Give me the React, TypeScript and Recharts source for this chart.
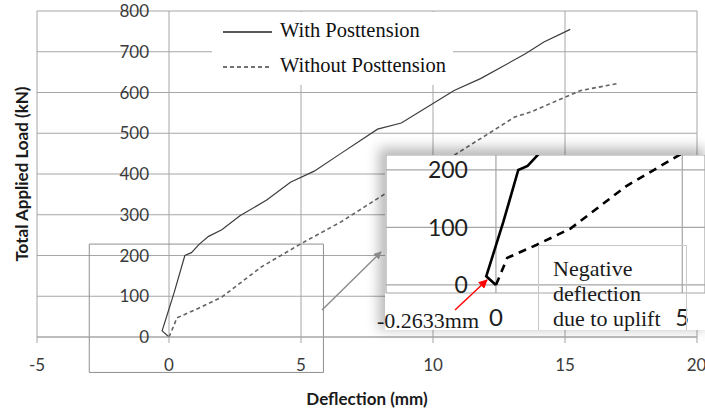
import { CartesianGrid, Legend, Line, LineChart, ReferenceArea, XAxis, YAxis } from "recharts";

// deflection (mm) / load (kN)
const withX = [0, -0.26, 0.2, 0.6, 0.85, 1.15, 1.5, 2.0, 2.7, 3.7, 4.6, 5.5, 6.5, 7.9, 8.8, 10.8, 11.8, 13.5, 14.2, 15.2];
const withY = [0, 15, 110, 200, 207, 228, 247, 263, 298, 336, 380, 407, 450, 510, 525, 605, 634, 695, 724, 755];
const withoutX = [0, 0.1, 0.3, 1.1, 2.0, 3.5, 5.0, 6.5, 8.2, 10.8, 13.1, 13.7, 15.6, 17.0];
const withoutY = [0, 15, 47, 70, 98, 172, 229, 282, 352, 446, 540, 552, 605, 622];

const xTicks = [-5, 0, 5, 10, 15, 20];
const yTicks = [0, 100, 200, 300, 400, 500, 600, 700, 800];
const insetXTicks = [0, 5];
const insetYTicks = [0, 100, 200];

const withData = withX.map((x, i) => ({ x, y: withY[i] }));
const withoutData = withoutX.map((x, i) => ({ x, y: withoutY[i] }));

const mainXDomain = [-5, 20];
const insetXDomain = [-2.95, 5.61];
const insetYDomain = [-14, 226];

const W = 705;
const H = 413;
const mainPlotW = 660;
const insetW = 320;
const insetH = 175;
const insetPlotW = insetW - 1;

const grid = "#a6a6a6";
const tickFont = "Lato, 'Noto Sans', sans-serif";
const serif = "'Liberation Serif', 'DejaVu Serif', serif";

// y labels sit next to the x = 0 line, as in Excel
const mainZero = (mainPlotW * (0 - mainXDomain[0])) / (mainXDomain[1] - mainXDomain[0]);
const insetZero = (insetPlotW * (0 - insetXDomain[0])) / (insetXDomain[1] - insetXDomain[0]);

const MainYTick = ({ x, y, payload }: any) => (
  <text x={x + mainZero - 20} y={y} dy="0.36em" textAnchor="end" fill="#3a3a3a" fontSize={17} fontFamily={tickFont}>
    {payload.value}
  </text>
);

const InsetYTick = ({ x, y, payload }: any) => (
  <text x={x + insetZero - 28} y={y} dy="0.36em" textAnchor="end" fill="#1e1e1e" fontSize={23} fontFamily={tickFont}>
    {payload.value}
  </text>
);

const LegendBox = () => (
  <div style={{ position: "relative", width: 241, height: 73, fontFamily: serif, fontSize: 20.5, color: "#111" }}>
    <svg width={60} height={73} style={{ position: "absolute", left: 0, top: 0 }}>
      <line x1={11} x2={60} y1={20} y2={20} stroke="#222" strokeWidth={1.3} />
      <line x1={11} x2={60} y1={55} y2={55} stroke="#444" strokeWidth={1.3} strokeDasharray="4 3" />
    </svg>
    <div style={{ position: "absolute", left: 68, top: 7, whiteSpace: "nowrap" }}>With Posttension</div>
    <div style={{ position: "absolute", left: 68, top: 42, whiteSpace: "nowrap" }}>Without Posttension</div>
  </div>
);

export default function App() {
  return (
    <div style={{ position: "absolute", left: 0, top: 0, width: W, height: H, background: "#fff", overflow: "hidden" }}>
      <LineChart width={W} height={H} margin={{ top: 11, right: 8, left: 0, bottom: 0 }}>
        <CartesianGrid stroke={grid} strokeWidth={1} />
        <XAxis
          type="number"
          dataKey="x"
          domain={mainXDomain}
          ticks={xTicks}
          height={76}
          stroke={grid}
          tickSize={6}
          tickMargin={16}
          tick={{ fill: "#3a3a3a", fontSize: 17, fontFamily: tickFont }}
          label={{ value: "Deflection (mm)", position: "insideBottom", offset: 8, fill: "#1a1a1a", fontSize: 17, fontWeight: 700, fontFamily: tickFont }}
        />
        <YAxis
          type="number"
          dataKey="y"
          domain={[0, 800]}
          ticks={yTicks}
          width={37}
          axisLine={false}
          tickLine={false}
          tickSize={0}
          tickMargin={0}
          tick={<MainYTick />}
          label={{ value: "Total Applied Load (kN)", angle: -90, position: "center", dx: 3, fill: "#1a1a1a", fontSize: 17, fontWeight: 700, fontFamily: tickFont }}
        />
        <ReferenceArea x1={-3.02} x2={5.85} y1={-87} y2={228} ifOverflow="visible" fill="none" fillOpacity={0} stroke="#8f8f8f" strokeWidth={1} />
        <Line data={withData} dataKey="y" type="linear" stroke="#3c3c3c" strokeWidth={1.2} dot={false} isAnimationActive={false} name="With Posttension" />
        <Line data={withoutData} dataKey="y" type="linear" stroke="#636363" strokeWidth={1.6} strokeDasharray="4 3" dot={false} isAnimationActive={false} name="Without Posttension" />
        <Legend
          layout="horizontal"
          verticalAlign="middle"
          align="center"
          wrapperStyle={{ position: "absolute", left: 212, top: 12, width: 241, height: 73, background: "#fff" }}
          content={() => <LegendBox />}
        />
      </LineChart>

      {/* zoomed inset */}
      <div
        style={{
          position: "absolute",
          left: 385,
          top: 155,
          width: insetW,
          height: insetH,
          background: "#fff",
          boxShadow: "-3px -4px 12px 3px rgba(0,0,0,0.28)",
        }}
      >
        <LineChart width={insetW} height={insetH} margin={{ top: 0, right: 0, left: 0, bottom: 0 }}>
          <CartesianGrid stroke={grid} strokeWidth={1.2} />
          <XAxis
            type="number"
            dataKey="x"
            domain={insetXDomain}
            ticks={insetXTicks}
            allowDataOverflow
            height={37}
            axisLine={false}
            tickLine={false}
            tickSize={0}
            tickMargin={16}
            tick={{ fill: "#1e1e1e", fontSize: 24, fontFamily: tickFont }}
          />
          <YAxis
            type="number"
            dataKey="y"
            domain={insetYDomain}
            ticks={insetYTicks}
            allowDataOverflow
            width={1}
            axisLine={false}
            tickLine={false}
            tickSize={0}
            tickMargin={0}
            tick={<InsetYTick />}
          />
          <Line data={withData} dataKey="y" type="linear" stroke="#000" strokeWidth={2.6} dot={false} isAnimationActive={false} />
          <Line data={withoutData} dataKey="y" type="linear" stroke="#000" strokeWidth={2.6} strokeDasharray="8 6" dot={false} isAnimationActive={false} />
        </LineChart>
        <div
          style={{
            position: "absolute",
            left: 153,
            top: 90,
            width: 149,
            height: 85,
            border: "1px solid #c8c8c8",
            borderBottom: "none",
            boxSizing: "border-box",
            padding: "10px 0 0 14px",
            fontFamily: serif,
            fontSize: 22,
            lineHeight: "25px",
            color: "#1a1a1a",
          }}
        >
          Negative
          <br />
          deflection
          <br />
          due to uplift
        </div>
      </div>

      <div style={{ position: "absolute", left: 377, top: 308, fontFamily: serif, fontSize: 22, lineHeight: "25px", color: "#1a1a1a", whiteSpace: "nowrap" }}>
        -0.2633mm
      </div>

      <svg width={W} height={H} style={{ position: "absolute", left: 0, top: 0, pointerEvents: "none" }}>
        <defs>
          <marker id="grayHead" markerWidth="8" markerHeight="8" refX="7" refY="4" orient="auto" markerUnits="userSpaceOnUse">
            <path d="M0,0 L8,4 L0,8 Z" fill="#8a8a8a" />
          </marker>
          <marker id="redHead" markerWidth="9" markerHeight="9" refX="8" refY="4.5" orient="auto" markerUnits="userSpaceOnUse">
            <path d="M0,0 L9,4.5 L0,9 Z" fill="#ff0000" />
          </marker>
        </defs>
        <line x1={322} y1={310} x2={381} y2={252} stroke="#8a8a8a" strokeWidth={1.4} markerEnd="url(#grayHead)" />
        <line x1={455} y1={310} x2={487} y2={280} stroke="#ff0000" strokeWidth={1.4} markerEnd="url(#redHead)" />
      </svg>
    </div>
  );
}
